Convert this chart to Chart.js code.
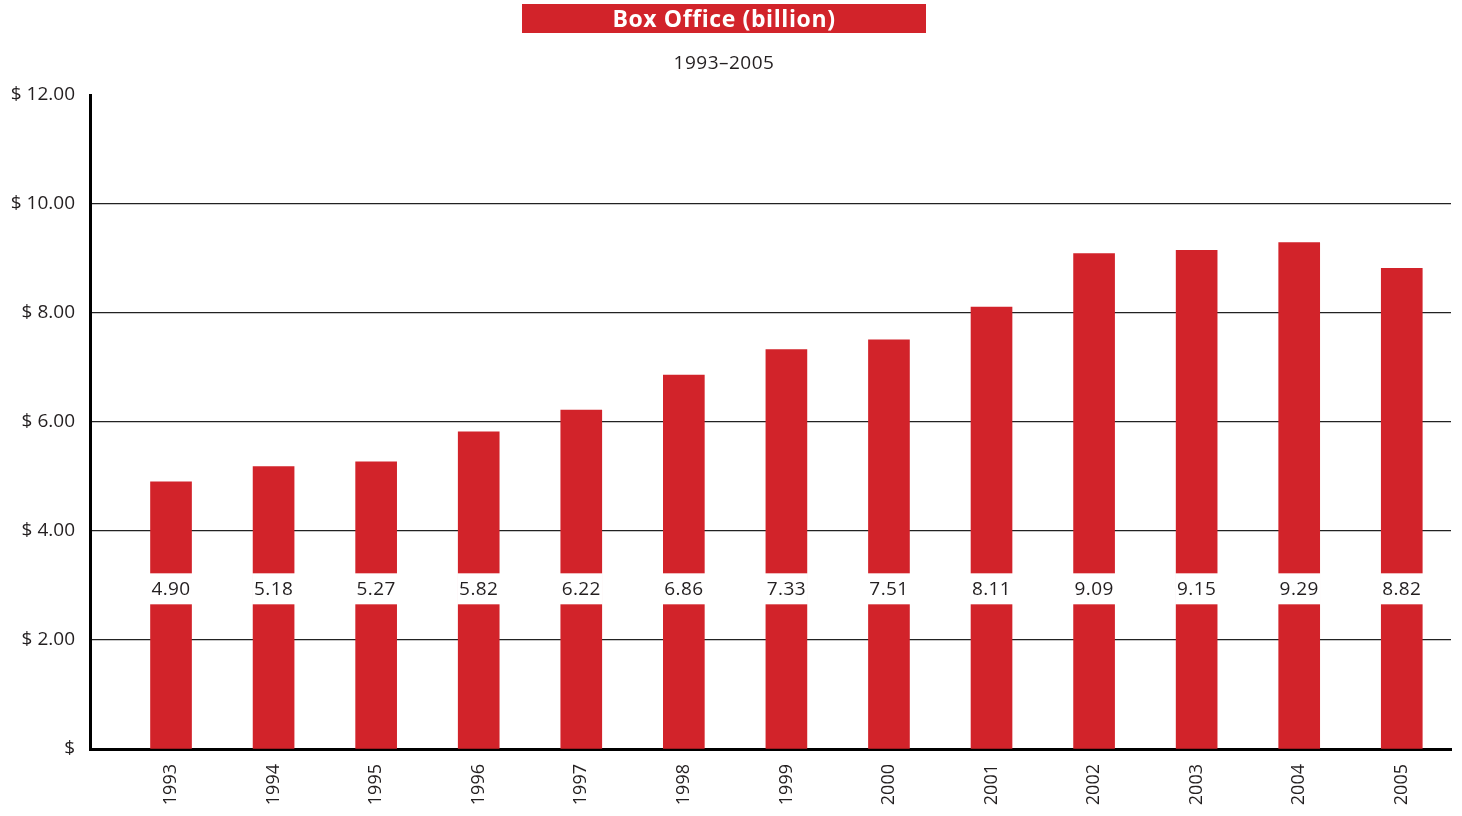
<!DOCTYPE html>
<html>
<head>
<meta charset="utf-8">
<script src="https://cdn.jsdelivr.net/npm/chart.js@4"></script>
<style>
html,body{margin:0;padding:0;background:#fff;}
#wrap{width:1462px;height:816px;position:relative;}
</style>
</head>
<body>
<div id="wrap"><canvas id="c" width="1462" height="816"></canvas></div>
<script>
const years = ['1993','1994','1995','1996','1997','1998','1999','2000','2001','2002','2003','2004','2005'];
const boxOffice = [4.90, 5.18, 5.27, 5.82, 6.22, 6.86, 7.33, 7.51, 8.11, 9.09, 9.15, 9.29, 8.82];
const yTicks = [0, 2, 4, 6, 8, 10, 12];
const titleText = 'Box Office (billion)';
const subtitleText = '1993–2005';

const FONT = '"Open Sans", "Liberation Sans", sans-serif';
const RED = '#D2232A';
const INK = '#231f20';

const headerPlugin = {
  id: 'header',
  beforeDraw(chart) {
    const ctx = chart.ctx;
    ctx.save();
    ctx.fillStyle = RED;
    ctx.fillRect(522, 4, 404, 29);
    ctx.fillStyle = '#fff';
    ctx.font = 'bold 23px ' + FONT;
    if ('letterSpacing' in ctx) ctx.letterSpacing = '0.6px';
    ctx.textAlign = 'center';
    ctx.textBaseline = 'middle';
    ctx.fillText(titleText, 724, 20);
    ctx.fillStyle = INK;
    ctx.font = '19px ' + FONT;
    if ('letterSpacing' in ctx) ctx.letterSpacing = '0.5px';
    ctx.fillText(subtitleText, 724, 64);
    ctx.restore();
  }
};

const valueLabelPlugin = {
  id: 'valueLabels',
  afterDatasetsDraw(chart) {
    const ctx = chart.ctx;
    const meta = chart.getDatasetMeta(0);
    const ys = chart.scales.y;
    const cy = ys.getPixelForValue(2.93);
    ctx.save();
    meta.data.forEach((bar, i) => {
      const w = bar.width;
      ctx.fillStyle = '#fff';
      ctx.fillRect(bar.x - w / 2 - 1, cy - 16, w + 2, 31);
      ctx.fillStyle = INK;
      ctx.font = '19px ' + FONT;
      if ('letterSpacing' in ctx) ctx.letterSpacing = '0.4px';
      ctx.textAlign = 'center';
      ctx.textBaseline = 'middle';
      ctx.fillText(boxOffice[i].toFixed(2), bar.x, cy);
    });
    ctx.restore();
  }
};

new Chart(document.getElementById('c'), {
  type: 'bar',
  data: {
    datasets: [{
      data: boxOffice.map((v, i) => ({ x: i, y: v })),
      backgroundColor: RED,
      borderWidth: 0,
      barThickness: 41
    }]
  },
  options: {
    responsive: false,
    animation: false,
    layout: { padding: { top: 95, right: 11, left: 0, bottom: 0 } },
    plugins: { legend: { display: false }, tooltip: { enabled: false } },
    scales: {
      x: {
        type: 'linear',
        offset: false,
        min: -0.79,
        max: 12.48,
        afterBuildTicks(scale) { scale.ticks = years.map((_, i) => ({ value: i })); },
        afterFit(scale) { scale.height = 67; },
        grid: { display: false, drawTicks: false, offset: false },
        border: { display: true, color: '#000', width: 3 },
        ticks: {
          autoSkip: false,
          minRotation: 90,
          maxRotation: 90,
          padding: 15,
          color: INK,
          font: { family: FONT, size: 18 },
          callback(v) { return years[v] !== undefined ? years[v] : ''; }
        }
      },
      y: {
        min: 0,
        max: 12,
        afterBuildTicks(scale) { scale.ticks = yTicks.map(v => ({ value: v })); },
        afterFit(scale) { scale.width = 90; },
        grid: {
          drawTicks: false,
          color: (c) => (c.tick && (c.tick.value === 12 || c.tick.value === 0)) ? 'rgba(0,0,0,0)' : '#222',
          lineWidth: 1.2
        },
        border: { display: true, color: '#000', width: 3 },
        ticks: {
          padding: 15,
          color: INK,
          font: { family: FONT, size: 19 },
          callback(v) { return v === 0 ? '$' : '$ ' + v.toFixed(2); }
        }
      }
    }
  },
  plugins: [headerPlugin, valueLabelPlugin]
});
</script>
</body>
</html>
